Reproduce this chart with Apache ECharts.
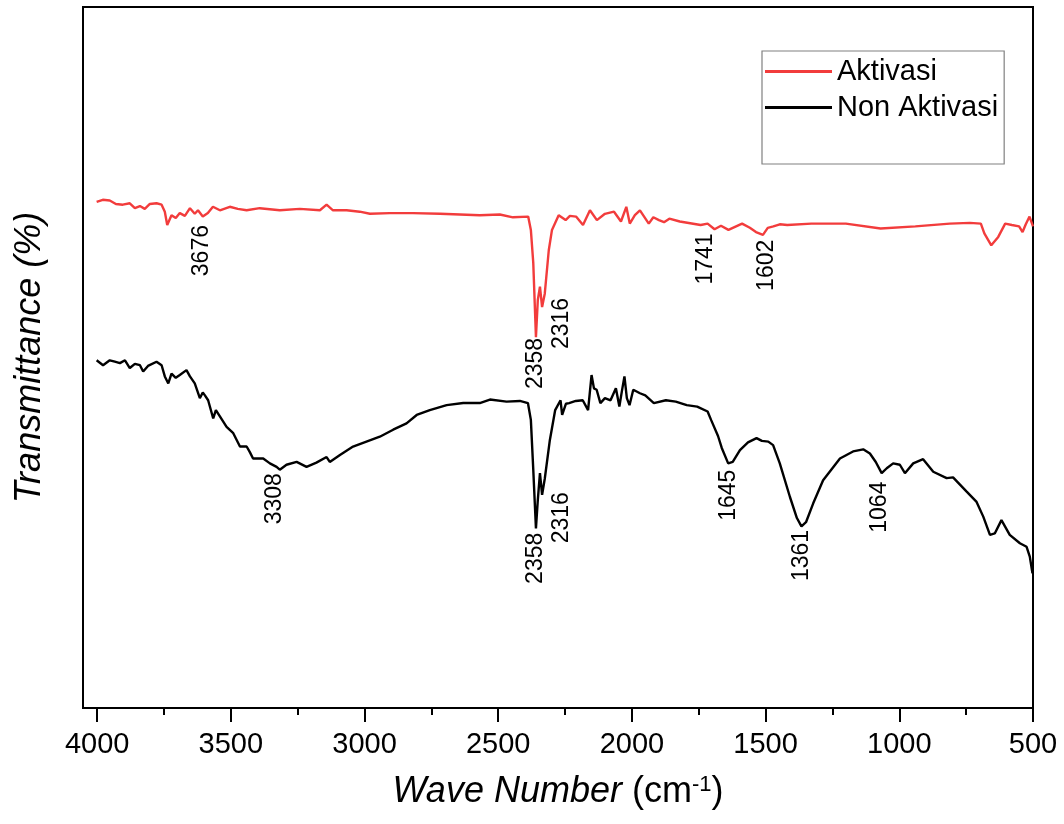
<!DOCTYPE html>
<html>
<head>
<meta charset="utf-8">
<script src="https://cdn.jsdelivr.net/npm/echarts@6/dist/echarts.min.js"></script>
<style>
html,body{margin:0;padding:0;background:#fff;}
#chart{width:1064px;height:824px;}
</style>
</head>
<body>
<div id="chart"></div>
<script>
// Wave number (cm-1), transmittance (arbitrary %, curves offset as in the figure)
const aktivasi = [
[4002,72.2],[3979,72.5],[3953,72.4],[3930,71.9],[3904,71.8],[3878,72.0],[3859,71.3],[3840,71.6],[3822,71.2],[3803,71.9],
[3778,72.0],[3759,71.8],[3747,70.8],[3738,68.9],[3722,70.3],[3706,69.9],[3691,70.6],[3672,70.2],[3653,71.3],[3635,70.5],
[3623,71.0],[3605,70.1],[3586,70.6],[3567,71.5],[3541,71.0],[3504,71.5],[3474,71.2],[3441,71.0],[3392,71.3],[3317,71.0],
[3242,71.2],[3167,71.0],[3142,71.8],[3118,71.0],[3067,71.0],[3018,70.8],[2980,70.5],[2905,70.6],[2819,70.6],[2718,70.5],
[2569,70.3],[2494,70.4],[2445,70.0],[2388,70.1],[2378,68.2],[2369,63.5],[2359,52.9],[2352,58.2],[2344,60.1],[2336,57.2],
[2326,59.1],[2311,65.3],[2299,68.2],[2274,70.3],[2248,69.6],[2232,70.2],[2209,70.1],[2183,68.9],[2157,71.0],[2131,69.6],
[2101,70.5],[2067,70.8],[2041,69.4],[2021,71.5],[2008,69.1],[1989,70.3],[1970,71.0],[1937,69.1],[1920,70.0],[1899,69.6],
[1880,69.3],[1860,69.8],[1821,69.4],
[1743,68.9],[1717,69.1],[1691,68.3],[1667,68.8],[1639,68.2],[1588,69.1],[1559,68.5],[1536,67.9],[1510,67.5],[1492,68.5],
[1471,68.7],[1447,69.0],[1419,68.9],[1329,69.1],[1200,69.1],[1070,68.4],[940,68.7],[811,69.1],[736,69.2],[695,69.1],
[682,67.7],[656,66.0],[630,67.2],[604,69.1],[579,68.9],[552,68.7],[539,67.9],[527,69.0],[513,70.1],[500,68.7]
];
const nonAktivasi = [
[4002,49.6],[3978,48.9],[3953,49.6],[3934,49.4],[3915,49.2],[3896,49.6],[3878,48.5],[3859,49.1],[3840,48.9],[3828,48.0],
[3810,48.8],[3778,49.4],[3759,48.9],[3747,47.3],[3734,46.3],[3722,47.7],[3706,47.1],[3691,47.5],[3666,48.2],[3653,47.3],
[3635,46.3],[3616,44.2],[3605,45.0],[3597,44.6],[3585,43.9],[3566,41.3],[3556,42.5],[3541,41.6],[3516,40.1],[3491,39.2],[3466,37.3],
[3441,37.3],[3429,36.5],[3417,35.6],[3379,35.6],[3354,34.9],[3329,34.4],[3317,34.0],[3292,34.7],[3254,35.1],[3217,34.4],
[3180,35.0],[3142,35.8],[3130,35.1],[3092,36.1],[3043,37.3],[2993,38.0],[2943,38.7],[2893,39.7],[2843,40.6],[2805,41.8],
[2756,42.5],[2693,43.2],[2631,43.5],[2569,43.5],[2531,44.0],[2469,43.7],[2419,43.8],[2389,43.5],[2378,41.1],[2369,34.0],
[2359,25.6],[2352,29.7],[2344,33.5],[2336,30.4],[2326,32.7],[2307,38.2],[2287,42.5],[2267,43.9],[2261,41.8],[2247,43.4],
[2235,43.5],[2210,43.8],[2184,43.9],[2164,42.5],[2151,47.5],[2142,45.6],[2132,45.4],[2118,43.5],[2101,44.2],[2080,43.9],
[2060,45.6],[2047,43.0],[2038,45.1],[2028,47.3],[2019,44.2],[2009,43.2],[1995,45.4],[1970,44.9],[1950,44.6],[1918,43.5],
[1873,43.9],[1836,43.7],[1795,43.2],[1756,43.0],[1717,42.3],[1704,41.1],[1678,38.8],[1664,37.1],[1640,34.9],[1623,35.1],
[1596,36.8],[1566,37.9],[1534,38.5],[1514,38.1],[1490,38.0],[1472,37.5],[1447,34.9],[1409,30.1],[1383,27.1],[1366,25.9],
[1349,26.5],[1322,29.2],[1285,32.5],[1222,35.6],[1173,36.6],[1135,36.9],[1110,36.3],[1088,35.1],[1066,33.5],[1047,34.2],
[1023,34.9],[998,34.7],[979,33.5],[948,34.9],[911,35.5],[873,33.7],[823,32.8],[799,32.9],[749,30.9],[711,29.4],
[686,27.3],[661,24.7],[643,24.9],[618,26.8],[587,24.7],[549,23.5],[524,23.0],[512,21.6],[502,19.2]
];
// Peak annotations: [wave number position, transmittance position, text]
const peakLabels = [
[3610,68.9,'3676'],[2359,52.8,'2358'],[2263,58.5,'2316'],[1723,67.7,'1741'],[1497,66.8,'1602'],
[3335,33.5,'3308'],[2359,25.0,'2358'],[2263,30.8,'2316'],[1640,34.0,'1645'],[1366,25.4,'1361'],[1073,32.3,'1064']
];
const majorTicks = [500,1000,1500,2000,2500,3000,3500,4000];
const minorTicks = [750,1250,1750,2250,2750,3250,3750];
const seriesNames = ['Aktivasi','Non Aktivasi'];

const FONT = '"Liberation Sans", Arial, sans-serif';
const chart = echarts.init(document.getElementById('chart'));
chart.setOption({
  animation: false,
  backgroundColor: '#fff',
  grid: {left: 83, right: 31, top: 7, bottom: 116, show: true, borderColor: '#000', borderWidth: 2, backgroundColor: 'transparent'},
  legend: {
    data: seriesNames, orient: 'vertical', left: 762, top: 51,
    padding: [6, 6, 42, 3], itemGap: 7, itemWidth: 67, itemHeight: 3, icon: 'rect',
    borderColor: '#808080', borderWidth: 1.2, borderRadius: 0,
    textStyle: {fontFamily: FONT, fontSize: 29, color: '#000'}
  },
  xAxis: [{
    type: 'value', inverse: true, min: 500, max: 4053,
    name: '{i|Wave Number} (cm{s|-1})', nameLocation: 'middle', nameGap: 66,
    nameTextStyle: {fontFamily: FONT, fontSize: 36, color: '#000',
      rich: {i: {fontFamily: FONT, fontSize: 36, fontStyle: 'italic', color: '#000'},
             s: {fontFamily: FONT, fontSize: 22, color: '#000', verticalAlign: 'top'}}},
    axisLine: {show: true, lineStyle: {color: '#000', width: 2}},
    axisTick: {show: true, inside: false, length: 14, lineStyle: {color: '#000', width: 2}, customValues: majorTicks},
    axisLabel: {show: true, margin: 22, fontFamily: FONT, fontSize: 29, color: '#000', customValues: majorTicks,
      formatter: v => String(v)},
    splitLine: {show: false}
  }, {
    type: 'value', inverse: true, min: 500, max: 4053, position: 'bottom',
    axisLine: {show: false},
    axisTick: {show: true, inside: false, length: 7, lineStyle: {color: '#000', width: 2}, customValues: minorTicks},
    axisLabel: {show: false},
    splitLine: {show: false}
  }],
  yAxis: {
    type: 'value', min: 0, max: 100,
    name: 'Transmittance (%)', nameLocation: 'middle', nameGap: 35,
    nameTextStyle: {fontFamily: FONT, fontSize: 36, fontStyle: 'italic', color: '#000'},
    axisLine: {show: true, lineStyle: {color: '#000', width: 2}},
    axisTick: {show: false}, axisLabel: {show: false}, splitLine: {show: false}
  },
  series: [{
    name: seriesNames[0], type: 'line', data: aktivasi, showSymbol: false, symbol: 'none',
    color: '#f23c3c', lineStyle: {color: '#f23c3c', width: 2.4}
  }, {
    name: seriesNames[1], type: 'line', data: nonAktivasi, showSymbol: false, symbol: 'none',
    color: '#000', lineStyle: {color: '#000', width: 2.4}
  }, {
    name: 'peaks', type: 'scatter', data: peakLabels, symbolSize: 0, silent: true,
    label: {show: true, position: 'inside', rotate: 90, align: 'right', verticalAlign: 'middle',
      fontFamily: FONT, fontSize: 23, color: '#000', textBorderWidth: 0, opacity: 1,
      formatter: p => p.data[2]}
  }]
});
</script>
</body>
</html>
